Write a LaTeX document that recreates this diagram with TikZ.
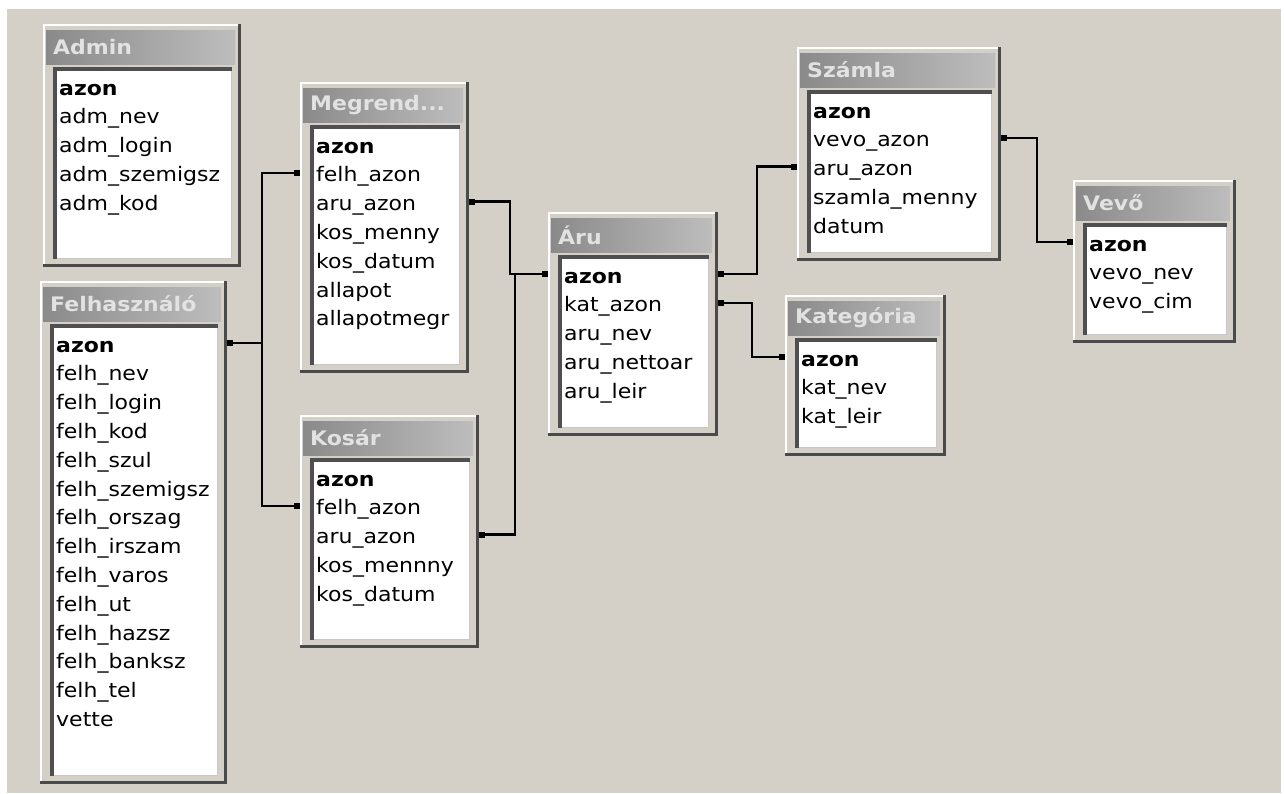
\documentclass[tikz,border=0pt]{standalone}
\usepackage{fontspec}
\newfontfamily\tah[FakeStretch=1.1]{DejaVu Sans}
\definecolor{bg}{HTML}{D4D0C8}
\definecolor{tgA}{HTML}{8A8A8A}
\definecolor{tgB}{HTML}{BDBDBD}
\definecolor{ttl}{HTML}{E2E2E2}
\definecolor{frdark}{HTML}{4A4A4A}
\definecolor{lsdark}{HTML}{4F4F4F}
\definecolor{lslight}{HTML}{C8C8C8}
\tikzset{
  rowtxt/.style={anchor=west, inner sep=0pt, text height=14pt, text depth=4pt,
    font={\tah\fontsize{20}{22}\selectfont}, text=black},
  ttltxt/.style={anchor=west, inner sep=0pt, font={\tah\bfseries\fontsize{20}{22}\selectfont}, text=ttl},
  tabbox/.style={anchor=north west, inner sep=0pt, fill=bg, draw=none},
  rel/.style={line width=2.4pt, black},
  dot/.style={fill=black, minimum width=6pt, minimum height=6pt, inner sep=0pt, rectangle}
}
% name, x0, y0, x1, y1, title, rows
\newcommand\dbtab[7]{%
  \node[tabbox, minimum width={(#4-#2)*1pt}, minimum height={(#5-#3)*1pt}] (#1) at (#2,#3) {};
  \draw[white, line width=2pt] (#2+1,#5-2) -- (#2+1,#3+1) -- (#4-2,#3+1);
  \draw[frdark, line width=3.5pt] (#2,#5-1.75) -- (#4-1.75,#5-1.75) -- (#4-1.75,#3);
  \shade[left color=tgA, right color=tgB] (#2+3,#3+6) rectangle (#4-6,#3+40);
  \node[ttltxt] (#1-t) at (#2+10,#3+23) {#6};
  \fill[white] (#2+10,#3+43) rectangle (#4-9,#5-8);
  \draw[lsdark, line width=3.5pt] (#2+11.75,#5-8) -- (#2+11.75,#3+44.75) -- (#4-9,#3+44.75);
  \draw[lslight, line width=1.5pt] (#2+13.5,#5-8.75) -- (#4-9.75,#5-8.75) -- (#4-9.75,#3+46.5);
  \foreach \r [count=\i] in {#7} {\node[rowtxt] (#1-\i) at (#2+16,#3+66+28.8*\i-28.8) {\r};}
}
\newcommand\portR[3]{\path (#1.east |- #2) ++(3,-4) node[dot] (#3) {};}
\newcommand\portL[3]{\path (#1.west |- #2) ++(-3,-4) node[dot] (#3) {};}
\begin{document}
\begin{tikzpicture}[x=1pt, y=-1pt]
\useasboundingbox (0,0) rectangle (1284,793);
\fill[white] (0,0) rectangle (1284,793);
\fill[bg] (7,9) rectangle (1281,793);

\dbtab{adm}{43}{24}{241}{267}{Admin}{\textbf{azon},adm\_nev,adm\_login,adm\_szemigsz,adm\_kod}
\dbtab{felh}{40}{281}{227}{784}{Felhasználó}{\textbf{azon},felh\_nev,felh\_login,felh\_kod,felh\_szul,felh\_szemigsz,felh\_orszag,felh\_irszam,felh\_varos,felh\_ut,felh\_hazsz,felh\_banksz,felh\_tel,vette}
\dbtab{meg}{300}{82}{469}{373}{Megrend...}{\textbf{azon},felh\_azon,aru\_azon,kos\_menny,kos\_datum,allapot,allapotmegr}
\dbtab{kos}{300}{415}{479}{648}{Kosár}{\textbf{azon},felh\_azon,aru\_azon,kos\_mennny,kos\_datum}
\dbtab{aru}{548}{212}{718}{436}{Áru}{\textbf{azon},kat\_azon,aru\_nev,aru\_nettoar,aru\_leir}
\dbtab{sz}{797}{47}{1001}{261}{Számla}{\textbf{azon},vevo\_azon,aru\_azon,szamla\_menny,datum}
\dbtab{vevo}{1073}{180}{1236}{343}{Vevő}{\textbf{azon},vevo\_nev,vevo\_cim}
\dbtab{kat}{785}{295}{946}{456}{Kategória}{\textbf{azon},kat\_nev,kat\_leir}

% ports
\portR{felh}{felh-1}{fa}
\portL{meg}{meg-2}{mb}
\portL{kos}{kos-2}{kb}
\portR{meg}{meg-3}{mc}
\portR{kos}{kos-3}{kc}
\portL{aru}{aru-1}{aa}
\portR{aru}{aru-1}{ab}
\portR{aru}{aru-2}{ac}
\portL{sz}{sz-3}{sa}
\portL{kat}{kat-1}{ka}
\portR{sz}{sz-2}{sb}
\portL{vevo}{vevo-1}{va}

\coordinate (v1) at (262,0);
\coordinate (v2) at (510,0);
\coordinate (v3) at (515,0);
\coordinate (v4) at (757,0);
\coordinate (v5) at (752,0);
\coordinate (v6) at (1037,0);

\draw[rel] (fa.center) -- (fa.center -| v1) -- (mb.center -| v1) -- (mb.center);
\draw[rel] (fa.center -| v1) -- (kb.center -| v1) -- (kb.center);
\draw[rel] (mc.center) -- (mc.center -| v2) -- (aa.center -| v2) -- (aa.center);
\draw[rel] (kc.center) -- (kc.center -| v3) -- (aa.center -| v3) -- (aa.center -| v2);
\draw[rel] (ab.center) -- (ab.center -| v4) -- (sa.center -| v4) -- (sa.center);
\draw[rel] (ac.center) -- (ac.center -| v5) -- (ka.center -| v5) -- (ka.center);
\draw[rel] (sb.center) -- (sb.center -| v6) -- (va.center -| v6) -- (va.center);
\end{tikzpicture}
\end{document}
